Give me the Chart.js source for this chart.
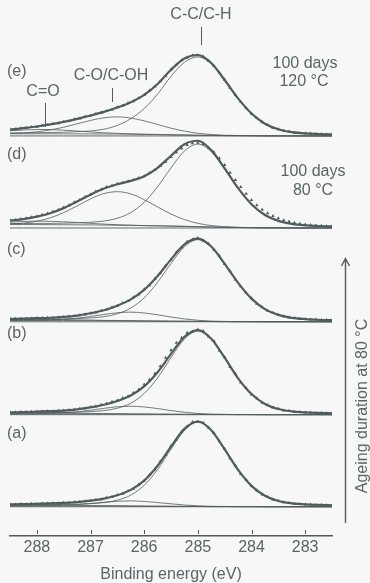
<!DOCTYPE html>
<html>
<head>
<meta charset="utf-8">
<script src="https://cdn.jsdelivr.net/npm/chart.js@4.4.0/dist/chart.umd.min.js"></script>
<style>
html, body { margin: 0; padding: 0; background: #f7f7f7; }
canvas { display: block; }
</style>
</head>
<body>
<canvas id="xps" width="370" height="583"></canvas>
<script>
// binding energy of the measured points (eV)
var energyData = [288.5, 288.4, 288.3, 288.2, 288.1, 288.0, 287.9, 287.8, 287.7, 287.6,
  287.5, 287.4, 287.3, 287.2, 287.1, 287.0, 286.9, 286.8, 286.7, 286.6,
  286.5, 286.4, 286.3, 286.2, 286.1, 286.0, 285.9, 285.8, 285.7, 285.6,
  285.5, 285.4, 285.3, 285.2, 285.1, 285.0, 284.9, 284.8, 284.7, 284.6,
  284.5, 284.4, 284.3, 284.2, 284.1, 284.0, 283.9, 283.8, 283.7, 283.6,
  283.5, 283.4, 283.3, 283.2, 283.1, 283.0, 282.9, 282.8, 282.7, 282.6,
  282.5];
// binding energy of the fitted curves (eV)
var energyFit = [288.5, 288.25, 288.0, 287.75, 287.5, 287.25, 287.0, 286.75, 286.5, 286.25,
  286.0, 285.75, 285.5, 285.25, 285.0, 284.75, 284.5, 284.25, 284.0, 283.75,
  283.5, 283.25, 283.0, 282.75, 282.5];

// measured intensities (a) ... (e)
var dataA = [2.8, 2.6, 3.1, 3.0, 3.4, 3.3, 3.8, 3.7, 4.1, 4.0,
  4.6, 4.7, 5.4, 5.6, 6.5, 6.9, 8.1, 8.8, 10.4, 11.3,
  13.6, 15.2, 18.4, 21.0, 26.0, 30.2, 37.0, 43.2, 52.5, 60.2,
  70.6, 78.3, 87.5, 93.2, 98.4, 98.9, 97.6, 92.0, 85.8, 76.0,
  67.3, 56.4, 47.9, 38.2, 31.3, 24.0, 19.2, 14.1, 11.4, 8.4,
  6.9, 5.1, 4.5, 3.4, 3.2, 2.6, 2.5, 2.1, 2.1, 1.7,
  1.8];
var dataB = [2.9, 2.7, 3.2, 3.2, 3.5, 3.4, 3.9, 4.1, 4.1, 4.7,
  4.8, 5.5, 5.9, 6.9, 7.3, 8.8, 9.5, 11.6, 12.9, 15.1,
  16.6, 19.4, 21.5, 25.6, 29.3, 35.0, 40.6, 47.9, 56.4, 66.3,
  74.8, 83.6, 89.4, 95.1, 96.6, 98.9, 97.2, 90.8, 85.6, 74.6,
  66.9, 55.4, 47.5, 37.4, 31.1, 23.5, 19.0, 14.0, 11.3, 8.3,
  6.8, 5.0, 4.5, 3.5, 3.2, 2.6, 2.5, 2.1, 2.1, 1.7,
  1.8];
var dataC = [3.3, 3.5, 3.6, 3.9, 3.9, 4.3, 4.3, 4.7, 4.8, 5.3,
  5.5, 6.3, 6.8, 7.7, 8.4, 10.0, 10.9, 12.9, 14.2, 16.8,
  18.5, 21.8, 24.0, 28.5, 32.0, 37.8, 42.4, 50.1, 56.3, 65.0,
  72.1, 80.8, 86.4, 93.0, 95.6, 97.3, 94.5, 90.8, 83.7, 76.7,
  67.1, 58.7, 49.0, 41.4, 33.3, 27.3, 21.0, 16.9, 12.8, 10.4,
  7.9, 6.4, 5.0, 4.3, 3.5, 3.2, 2.6, 2.5, 2.1, 2.1,
  1.7];
var dataD = [8.9, 9.3, 10.4, 11.2, 12.5, 13.4, 15.3, 16.8, 19.0, 21.0,
  23.8, 26.3, 29.8, 32.6, 36.3, 38.9, 42.4, 44.8, 47.6, 49.3,
  51.4, 52.6, 54.4, 55.8, 58.1, 60.2, 63.8, 67.4, 72.0, 77.1,
  82.6, 88.0, 92.5, 96.4, 98.6, 99.0, 97.3, 93.4, 87.9, 81.0,
  73.2, 64.3, 55.7, 47.6, 39.7, 32.6, 26.4, 21.4, 17.2, 13.8,
  11.2, 9.1, 7.5, 6.1, 5.0, 4.1, 3.4, 2.9, 2.5, 2.1,
  1.9];
var dataE = [7.6, 7.7, 8.9, 9.2, 10.4, 10.8, 12.2, 12.7, 14.2, 14.8,
  16.6, 17.4, 19.4, 20.4, 22.6, 23.6, 25.8, 26.9, 29.0, 30.4,
  33.3, 35.2, 38.3, 40.4, 44.2, 47.5, 52.9, 57.4, 63.7, 69.8,
  77.3, 82.7, 87.9, 91.2, 93.7, 93.8, 92.3, 87.4, 81.6, 73.3,
  65.2, 56.0, 47.8, 39.4, 32.5, 25.7, 20.8, 16.0, 12.8, 9.6,
  7.9, 6.0, 5.2, 3.8, 3.5, 2.7, 2.7, 2.2, 2.2, 1.8,
  1.8];

// fitted components: C-C/C-H, C-O/C-OH, C=O and background
var ccA = [0.9, 1.0, 1.2, 1.4, 1.7, 2.1, 2.7, 4.0, 6.7, 12.7, 24.2, 42.7, 66.4, 88.5, 98, 88.5, 66.4, 42.7, 24.2, 12.7, 6.7, 4.0, 2.7, 2.1, 1.7];
var coA = [0, 0, 0.1, 0.3, 0.8, 1.6, 2.9, 4.3, 5.5, 6.0, 5.5, 4.3, 2.9, 1.6, 0.8, 0.3, 0.1, 0, 0, 0, 0, 0, 0, 0, 0];
var cooA = [0.8, 1.1, 1.2, 1.2, 1.0, 0.8, 0.6, 0.3, 0.2, 0.1, 0, 0, 0, 0, 0, 0, 0, 0, 0, 0, 0, 0, 0, 0, 0];
var bgA = [1.0, 1.0, 1.0, 1.0, 1.0, 0.9, 0.9, 0.9, 0.9, 0.8, 0.7, 0.6, 0.5, 0.4, 0.3, 0.2, 0.2, 0.1, 0.1, 0, 0, 0, 0, 0, 0];

var ccB = [0.9, 1.0, 1.2, 1.4, 1.7, 2.1, 2.7, 3.9, 6.6, 12.5, 23.9, 42.2, 65.8, 87.6, 97, 87.6, 65.8, 42.2, 23.9, 12.5, 6.6, 3.9, 2.7, 2.1, 1.7];
var coB = [0, 0, 0.2, 0.5, 1.1, 2.4, 4.3, 6.5, 8.3, 9.0, 8.3, 6.5, 4.3, 2.4, 1.1, 0.5, 0.2, 0, 0, 0, 0, 0, 0, 0, 0];
var cooB = [0.8, 1.1, 1.2, 1.2, 1.0, 0.8, 0.6, 0.3, 0.2, 0.1, 0, 0, 0, 0, 0, 0, 0, 0, 0, 0, 0, 0, 0, 0, 0];
var bgB = [1.0, 1.0, 1.0, 1.0, 1.0, 0.9, 0.9, 0.9, 0.9, 0.8, 0.7, 0.6, 0.5, 0.4, 0.3, 0.2, 0.2, 0.1, 0.1, 0, 0, 0, 0, 0, 0];

var ccC = [1.0, 1.1, 1.3, 1.5, 1.8, 2.3, 3.1, 4.6, 8.0, 14.7, 26.8, 45.0, 67.0, 86.7, 95, 86.7, 67.0, 45.0, 26.8, 14.7, 8.0, 4.6, 3.1, 2.3, 1.8];
var coC = [0, 0.1, 0.2, 0.5, 1.3, 2.7, 4.8, 7.2, 9.2, 10.0, 9.2, 7.2, 4.8, 2.7, 1.3, 0.5, 0.2, 0.1, 0, 0, 0, 0, 0, 0, 0];
var cooC = [0.8, 1.1, 1.2, 1.2, 1.0, 0.8, 0.6, 0.3, 0.2, 0.1, 0, 0, 0, 0, 0, 0, 0, 0, 0, 0, 0, 0, 0, 0, 0];
var bgC = [1.5, 1.5, 1.5, 1.5, 1.5, 1.4, 1.4, 1.3, 1.3, 1.2, 1.0, 0.9, 0.7, 0.6, 0.4, 0.3, 0.2, 0.1, 0.1, 0, 0, 0, 0, 0, 0];

var ccD = [1.0, 1.1, 1.3, 1.5, 1.8, 2.3, 3.1, 4.7, 8.1, 14.9, 27.1, 45.5, 67.7, 87.6, 96, 87.6, 67.7, 45.5, 27.1, 14.9, 8.1, 4.7, 3.1, 2.3, 1.8];
var coD = [0.7, 1.7, 3.9, 7.9, 14.1, 22.0, 30.2, 36.6, 39.0, 36.6, 30.2, 22.0, 14.1, 7.9, 3.9, 1.7, 0.7, 0.2, 0.1, 0, 0, 0, 0, 0, 0];
var cooD = [2.8, 3.6, 4.0, 3.9, 3.4, 2.7, 1.8, 1.1, 0.6, 0.3, 0.1, 0, 0, 0, 0, 0, 0, 0, 0, 0, 0, 0, 0, 0, 0];
var bgD = [4.0, 4.0, 4.0, 3.9, 3.8, 3.7, 3.6, 3.4, 3.2, 3.0, 2.7, 2.5, 2.2, 1.9, 1.5, 1.2, 0.8, 0.6, 0.4, 0.2, 0.2, 0.1, 0, 0, 0];

var ccE = [0.9, 1.0, 1.2, 1.5, 1.9, 2.5, 3.5, 5.5, 10.0, 18.0, 30.0, 47.0, 68.0, 84.5, 91, 83.1, 64.2, 43.1, 25.7, 14.1, 7.6, 4.4, 2.9, 2.2, 1.7];
var coE = [0.4, 1.1, 2.3, 4.5, 7.7, 11.7, 15.7, 18.8, 20.0, 18.8, 15.7, 11.7, 7.7, 4.5, 2.3, 1.1, 0.4, 0.2, 0.1, 0, 0, 0, 0, 0, 0];
var cooE = [3.5, 4.4, 5.0, 4.9, 4.3, 3.3, 2.3, 1.4, 0.8, 0.4, 0.2, 0.1, 0, 0, 0, 0, 0, 0, 0, 0, 0, 0, 0, 0, 0];
var bgE = [2.5, 2.5, 2.5, 2.5, 2.4, 2.4, 2.3, 2.3, 2.2, 2.0, 1.8, 1.6, 1.3, 1.1, 0.8, 0.6, 0.4, 0.3, 0.2, 0.1, 0.1, 0, 0, 0, 0];

var energyTicks = [288, 287, 286, 285, 284, 283];

// vertical stacking of the spectra, bottom (a) to top (e)
var panelShift = [0, 107, 215, 324, 431];

var ink = '#505c5c';
var textInk = '#5b6565';
var fontName = '"Liberation Sans", Arial, sans-serif';

var panels = [
  {data: dataA, cc: ccA, co: coA, coo: cooA, bg: bgA},
  {data: dataB, cc: ccB, co: coB, coo: cooB, bg: bgB},
  {data: dataC, cc: ccC, co: coC, coo: cooC, bg: bgC},
  {data: dataD, cc: ccD, co: coD, coo: cooD, bg: bgD},
  {data: dataE, cc: ccE, co: coE, coo: cooE, bg: bgE}
];

function xy(xs, ys, shift) {
  return ys.map(function(v, i) { return {x: xs[i], y: v + shift}; });
}

function addUp() {
  var arrs = arguments;
  return arrs[0].map(function(v, i) {
    var t = 0;
    for (var j = 0; j < arrs.length; j++) t += arrs[j][i];
    return t;
  });
}

function curve(points, width, order) {
  return {
    data: points, showLine: true, borderColor: ink, borderWidth: width,
    pointRadius: 0, fill: false, cubicInterpolationMode: 'monotone', order: order
  };
}

var datasets = [];
panels.forEach(function(p, n) {
  var s = panelShift[n];
  var zero = energyFit.map(function() { return 0; });
  datasets.push(curve(xy(energyFit, zero, s), 0.9, 3));
  datasets.push(curve(xy(energyFit, p.bg, s), 0.8, 3));
  datasets.push(curve(xy(energyFit, addUp(p.bg, p.coo), s), 0.8, 3));
  datasets.push(curve(xy(energyFit, addUp(p.bg, p.co), s), 0.8, 3));
  datasets.push(curve(xy(energyFit, addUp(p.bg, p.cc), s), 0.8, 3));
  datasets.push(curve(xy(energyFit, addUp(p.bg, p.cc, p.co, p.coo), s), 2.2, 2));
  datasets.push({
    data: xy(energyData, p.data, s), showLine: false, pointStyle: 'triangle',
    pointRadius: 2, backgroundColor: ink, borderColor: ink, borderWidth: 0, order: 1
  });
});

var decor = {
  id: 'decor',
  afterDraw: function(chart) {
    var ctx = chart.ctx;
    var xs = chart.scales.x;
    var bottom = chart.chartArea.bottom;
    ctx.save();
    ctx.strokeStyle = ink;
    ctx.lineWidth = 1;
    // small inward ticks
    energyTicks.forEach(function(v) {
      var px = Math.round(xs.getPixelForValue(v)) + 0.5;
      ctx.beginPath();
      ctx.moveTo(px, bottom - 6);
      ctx.lineTo(px, bottom - 2);
      ctx.stroke();
    });

    ctx.fillStyle = textInk;
    ctx.font = '16px ' + fontName;
    ctx.textBaseline = 'middle';
    ctx.textAlign = 'left';
    [['(e)', 72], ['(d)', 155], ['(c)', 250], ['(b)', 334], ['(a)', 434]].forEach(function(l) {
      ctx.fillText(l[0], 7, l[1]);
    });

    ctx.textAlign = 'center';
    ctx.fillText('C=O', 43, 92);
    ctx.fillText('C-O/C-OH', 111, 76);
    ctx.fillText('C-C/C-H', 201, 15);
    ctx.fillText('100 days', 305, 64);
    ctx.fillText('120 \u00b0C', 304, 82);
    ctx.fillText('100 days', 313, 172);
    ctx.fillText('80 \u00b0C', 313, 191);

    ctx.beginPath();
    ctx.moveTo(45.5, 103); ctx.lineTo(45.5, 127);
    ctx.moveTo(112.5, 88); ctx.lineTo(112.5, 102);
    ctx.moveTo(201.5, 27); ctx.lineTo(201.5, 45);
    ctx.stroke();

    // ageing arrow
    ctx.lineWidth = 1.4;
    ctx.beginPath();
    ctx.moveTo(345.5, 523); ctx.lineTo(345.5, 259);
    ctx.moveTo(341.5, 266); ctx.lineTo(345.5, 258.5); ctx.lineTo(349.5, 266);
    ctx.stroke();

    ctx.translate(362.5, 406);
    ctx.rotate(-Math.PI / 2);
    ctx.fillText('Ageing duration at 80 \u00b0C', 0, 0);
    ctx.restore();
  }
};

new Chart(document.getElementById('xps'), {
  type: 'scatter',
  data: { datasets: datasets },
  options: {
    responsive: false,
    animation: false,
    devicePixelRatio: 1,
    layout: { autoPadding: false, padding: { left: 10, right: 38, top: 0, bottom: 0 } },
    plugins: { legend: { display: false }, tooltip: { enabled: false } },
    scales: {
      x: {
        type: 'linear', reverse: true, min: 282.5, max: 288.5,
        afterBuildTicks: function(scale) {
          scale.ticks = energyTicks.map(function(v) { return {value: v}; });
        },
        ticks: { color: textInk, font: { family: fontName, size: 16 }, padding: 2.4, maxRotation: 0 },
        grid: { display: true, drawOnChartArea: false, drawTicks: false },
        border: { display: true, color: ink, width: 1.5 },
        title: {
          display: true, text: 'Binding energy (eV)', color: textInk,
          font: { family: fontName, size: 16, lineHeight: 1.0 }, padding: { top: 7, bottom: 0 }
        }
      },
      y: { display: false, min: -34, max: 589 }
    }
  },
  plugins: [decor]
});
</script>
</body>
</html>
